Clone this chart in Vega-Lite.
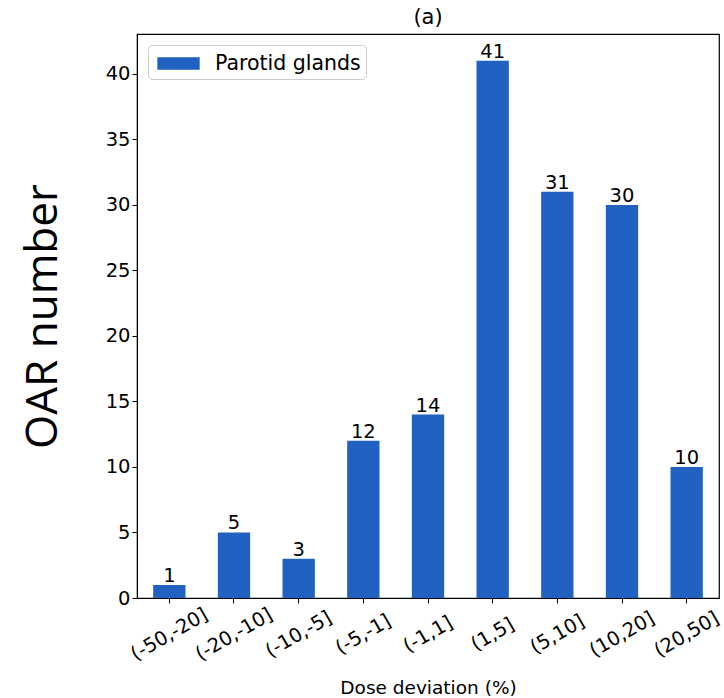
{
  "$schema": "https://vega.github.io/schema/vega-lite/v6.json",
  "width": 582,
  "height": 564,
  "autosize": {"type": "none"},
  "padding": {"left": 137, "top": 34, "right": 5, "bottom": 100},
  "background": "white",
  "title": {"text": "(a)", "fontSize": 21, "font": "DejaVu Sans", "fontWeight": "normal", "color": "black", "offset": 6, "anchor": "middle"},
  "config": {
    "view": {"stroke": "black", "strokeWidth": 1.2},
    "axis": {"labelFont": "DejaVu Sans", "labelFontSize": 19.5, "labelColor": "black", "tickColor": "black", "domainColor": "black", "tickSize": 5, "grid": false, "titleColor": "black", "titleFontWeight": "normal"}
  },
  "data": {"values": [
    {"bin": "(-50,-20]", "n": 1, "series": "Parotid glands"},
    {"bin": "(-20,-10]", "n": 5, "series": "Parotid glands"},
    {"bin": "(-10,-5]", "n": 3, "series": "Parotid glands"},
    {"bin": "(-5,-1]", "n": 12, "series": "Parotid glands"},
    {"bin": "(-1,1]", "n": 14, "series": "Parotid glands"},
    {"bin": "(1,5]", "n": 41, "series": "Parotid glands"},
    {"bin": "(5,10]", "n": 31, "series": "Parotid glands"},
    {"bin": "(10,20]", "n": 30, "series": "Parotid glands"},
    {"bin": "(20,50]", "n": 10, "series": "Parotid glands"}
  ]},
  "encoding": {
    "x": {"field": "bin", "type": "nominal", "sort": null,
      "scale": {"paddingInner": 0.5, "paddingOuter": 0.25},
      "axis": {"title": "Dose deviation (%)", "titleFont": "DejaVu Sans", "titleFontSize": 18.5, "titlePadding": 15, "labelAngle": -30, "labelAlign": "center", "labelBaseline": "middle", "labelPadding": 31}},
    "y": {"field": "n", "type": "quantitative",
      "scale": {"domain": [0, 43.05], "nice": false},
      "axis": {"title": "OAR number", "titleFont": "Open Sans", "titleFontSize": 44, "titlePadding": 40, "values": [0, 5, 10, 15, 20, 25, 30, 35, 40]}}
  },
  "layer": [
    {"mark": {"type": "bar", "color": "#2161c1"},
     "encoding": {"color": {"field": "series", "type": "nominal",
       "scale": {"range": ["#2161c1"]},
       "legend": {"title": null, "orient": "top-left", "offset": 11, "labelFont": "DejaVu Sans", "labelFontSize": 20.5, "labelColor": "black",
         "symbolType": "M-1.6,-0.48H1.6V0.48H-1.6Z", "symbolSize": 700, "symbolStrokeWidth": 0, "symbolOpacity": 1, "symbolOffset": 12,
         "fillColor": "white", "strokeColor": "#cccccc", "cornerRadius": 4, "padding": 5, "labelOffset": 23}}}},
    {"mark": {"type": "text", "baseline": "bottom", "dy": 1, "font": "DejaVu Sans", "fontSize": 19.5, "color": "black"},
     "encoding": {"text": {"field": "n", "type": "quantitative"}}}
  ]
}
